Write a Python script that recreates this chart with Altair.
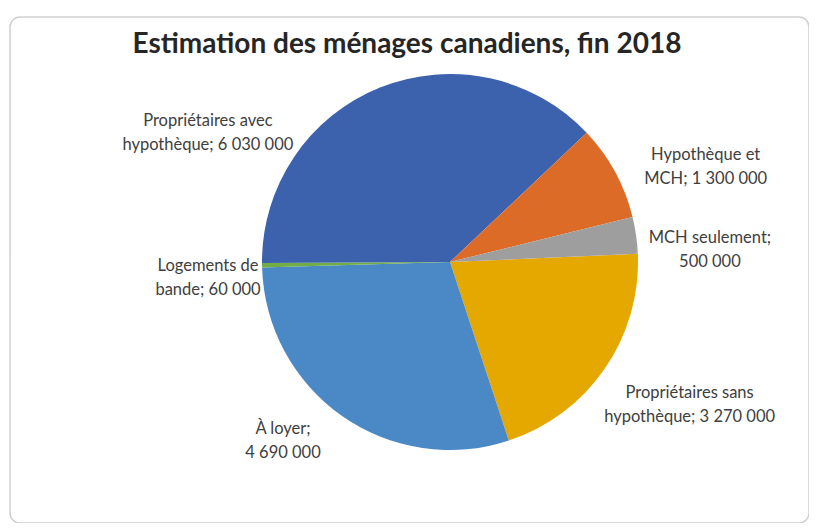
import math
import altair as alt
import pandas as pd

# ---- data ----
categories = [
    "Propriétaires sans hypothèque",
    "À loyer",
    "Logements de bande",
    "Propriétaires avec hypothèque",
    "Hypothèque et MCH",
    "MCH seulement",
]
values = [3270000, 4690000, 60000, 6030000, 1300000, 500000]
label_lines = [
    ["Propriétaires sans", "hypothèque; {}"],
    ["À loyer;", "{}"],
    ["Logements de", "bande; {}"],
    ["Propriétaires avec", "hypothèque; {}"],
    ["Hypothèque et", "MCH; {}"],
    ["MCH seulement;", "{}"],
]
colors = ["#E5A800", "#4A88C6", "#70AD47", "#3C62AD", "#DD6B28", "#9E9E9E"]
title_text = "Estimation des ménages canadiens, fin 2018"

# ---- label placement (style) ----
label_shift_deg = [-6, 10, 0, -38, 6, 3]
label_radius = [273, 236, 242, 280, 277, 261]

START = math.pi / 2 - math.radians(2.5)
CX, CY, R = 440, 245, 188

def fmt(v):
    return f"{v:,}".replace(",", "\u00a0")

total = sum(values)
rows = []
cum = 0
for i, (c, v) in enumerate(zip(categories, values)):
    mid = START + 2 * math.pi * (cum + v / 2) / total
    cum += v
    l1, l2 = label_lines[i]
    rows.append({
        "cat": c,
        "value": v,
        "order": i,
        "label": [l1.format(fmt(v)), l2.format(fmt(v))],
        "lab_theta": mid + math.radians(label_shift_deg[i]),
        "lab_r": label_radius[i],
    })
df = pd.DataFrame(rows)

base = alt.Chart(df)

pie = base.mark_arc(outerRadius=R, strokeWidth=0).encode(
    theta=alt.Theta("value:Q", stack=True,
                    scale=alt.Scale(range=[START, START + 2 * math.pi])),
    order=alt.Order("order:Q"),
    color=alt.Color("cat:N", scale=alt.Scale(domain=categories, range=colors), legend=None),
    x=alt.value(CX),
    y=alt.value(CY),
)

labels = base.mark_text(
    font="Lato", fontSize=16.5, color="#404040", align="center",
    baseline="middle", lineHeight=24,
).encode(
    theta=alt.Theta("lab_theta:Q", scale=None),
    radius=alt.Radius("lab_r:Q", scale=None),
    text="label",
    x=alt.value(CX),
    y=alt.value(CY),
)

title = alt.Chart(pd.DataFrame({"t": [title_text]})).mark_text(
    font="Lato", fontSize=28, fontWeight="bold", color="#262626",
    align="center", baseline="middle",
).encode(text="t:N", x=alt.value(397), y=alt.value(28))

chart = alt.layer(pie, labels, title).properties(
    width=799, height=506,
    padding={"left": 2, "top": 9, "right": 0, "bottom": 0},
    autosize=alt.AutoSizeParams(type="none"),
).configure_view(
    stroke="#D0D0D0", strokeWidth=1.5, cornerRadius=10,
)

chart.save("out.html", embed_options={"renderer": "svg", "actions": False})
